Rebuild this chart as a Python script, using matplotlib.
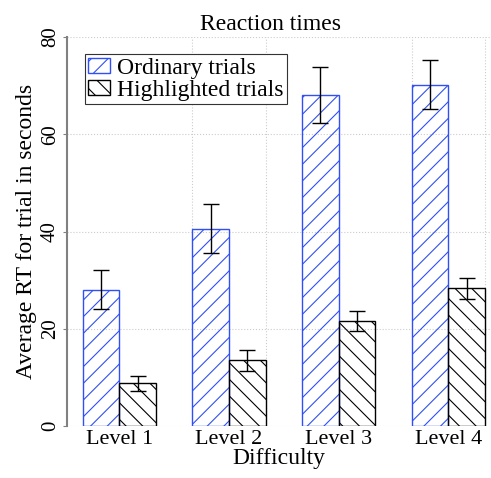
import matplotlib
matplotlib.use("Agg")
import matplotlib.pyplot as plt
import numpy as np

levels = ["Level 1", "Level 2", "Level 3", "Level 4"]
ordinary = [28.0, 40.6, 68.1, 70.2]
ordinary_err = [4.0, 5.0, 5.8, 5.0]
highlighted = [8.8, 13.5, 21.6, 28.3]
highlighted_err = [1.5, 2.1, 2.0, 2.2]

BLUE = "#3050f5"

plt.rcParams["font.family"] = ["Liberation Serif", "DejaVu Serif"]
plt.rcParams["hatch.linewidth"] = 0.8

fig = plt.figure(figsize=(4.91, 4.78), dpi=100)
ax = fig.add_axes([67 / 491, 52 / 478, 424 / 491, 389 / 478])

x = np.arange(1, len(levels) + 1)
w = 1 / 3
ax.bar(x - w / 2, ordinary, w, fill=False, hatch="//", edgecolor=BLUE, linewidth=1.0,
       label="Ordinary trials", zorder=2)
ax.bar(x + w / 2, highlighted, w, fill=False, hatch="\\\\", edgecolor="black", linewidth=1.0,
       label="Highlighted trials", zorder=2)
ax.errorbar(x - w / 2, ordinary, yerr=ordinary_err, fmt="none", ecolor="black",
            elinewidth=1.0, capsize=5.8, capthick=1.0, zorder=3)
ax.errorbar(x + w / 2, highlighted, yerr=highlighted_err, fmt="none", ecolor="black",
            elinewidth=1.0, capsize=5.8, capthick=1.0, zorder=3)

ax.set_xlim(0.523, 4.389)
ax.set_ylim(0, 80)
ax.set_yticks([0, 20, 40, 60, 80])
ax.set_xticks(x)
ax.set_xticklabels(levels, fontsize=16)
ax.set_xticks([1, 5 / 3, 7 / 3, 3, 11 / 3, 13 / 3], minor=True)
ax.tick_params(axis="x", which="both", length=0, pad=3)
ax.tick_params(axis="y", length=3, color="#808080", labelsize=15, pad=2)
for lab in ax.get_yticklabels():
    lab.set_rotation(90)
    lab.set_va("center")

ax.grid(False)
ax.yaxis.grid(True, linestyle=":", color="#cccccc", linewidth=0.8, zorder=0)
ax.xaxis.grid(True, which="minor", linestyle=":", color="#cccccc", linewidth=0.8, zorder=0)
ax.set_axisbelow(True)

for s in ["top", "right", "bottom"]:
    ax.spines[s].set_visible(False)
ax.spines["left"].set_color("#808080")
ax.spines["left"].set_linewidth(1.5)

ax.set_xlabel("Difficulty", fontsize=17, labelpad=-1)
ax.set_ylabel("Average RT for trial in seconds", fontsize=17, labelpad=3)
ax.set_title("Reaction times", fontsize=17, x=0.479, pad=5)

leg = ax.legend(loc="upper left", bbox_to_anchor=(0.042, 0.956), fontsize=17,
                frameon=True, fancybox=False, edgecolor="#333333", framealpha=1,
                handlelength=0.9, handleheight=0.6, handletextpad=0.3,
                borderpad=0.15, labelspacing=0.05, borderaxespad=0)
leg.get_frame().set_linewidth(0.8)

fig.savefig("out.png", dpi=100)
